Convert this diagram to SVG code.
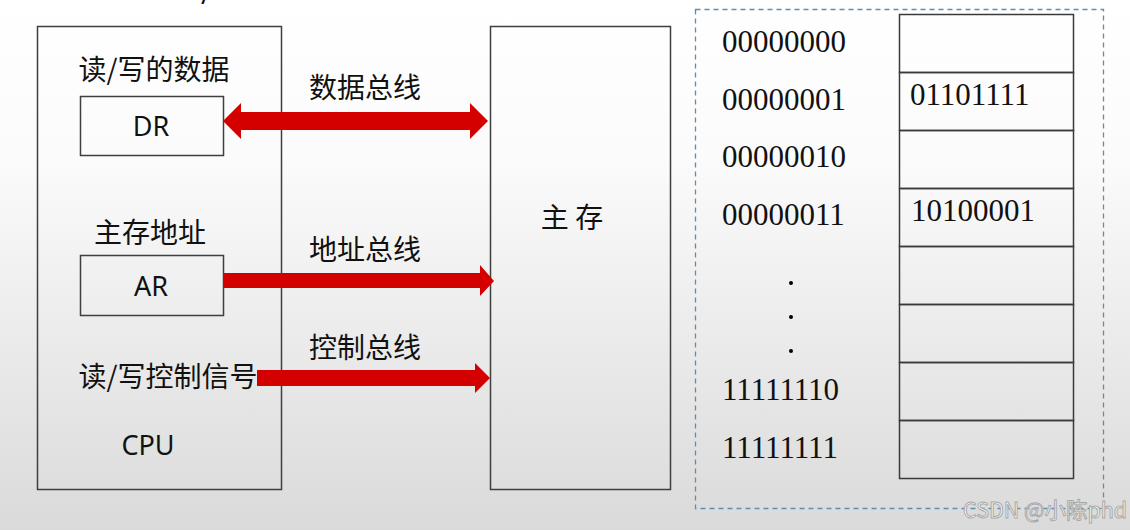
<svg xmlns="http://www.w3.org/2000/svg" width="1130" height="530" viewBox="0 0 1130 530">
<defs>
<linearGradient id="bg" x1="0" y1="0" x2="0" y2="1">
<stop offset="0" stop-color="#ffffff"/>
<stop offset="0.3" stop-color="#fbfbfb"/>
<stop offset="1" stop-color="#dadada"/>
</linearGradient>
<style>
.box{fill:none;stroke:#3f3f3f;stroke-width:1.5}
.cell{fill:none;stroke:#3a3a3a;stroke-width:1.5}
.cn{font-family:"Noto Sans CJK SC","Noto Sans",sans-serif;font-size:28px;fill:#111}
.lat{font-family:"Noto Sans","Open Sans",sans-serif;font-size:27px;fill:#111}
.num{font-family:"Liberation Serif","DejaVu Serif",serif;font-size:31px;fill:#111}
.bus{fill:#d40000}
</style>
</defs>
<rect x="0" y="0" width="1130" height="530" fill="url(#bg)"/>
<text x="201" y="4" class="lat" font-size="20">/</text>

<g id="cpu">
<rect class="box" x="37.5" y="26.5" width="244" height="463"/>
<text x="154" y="80" class="cn" text-anchor="middle">读/写的数据</text>
<text x="150" y="243" class="cn" text-anchor="middle">主存地址</text>
<text x="168" y="387" class="cn" text-anchor="middle">读/写控制信号</text>
<text x="148" y="455" class="lat" text-anchor="middle">CPU</text>
</g>
<g id="dr">
<rect class="box" x="80.5" y="96.5" width="143" height="59"/>
<text x="151" y="136" class="lat" text-anchor="middle">DR</text>
</g>
<g id="ar">
<rect class="box" x="80.5" y="255.5" width="143" height="60"/>
<text x="151" y="296" class="lat" text-anchor="middle">AR</text>
</g>
<g id="memory">
<rect class="box" x="490.5" y="26.5" width="180" height="463" stroke="#555"/>
<text x="572" y="228" class="cn" text-anchor="middle">主 存</text>
</g>

<g id="connectors">
<polygon class="bus" points="223,121 241,103 241,112 470,112 470,103 488,121 470,139 470,130 241,130 241,139"/>
<polygon class="bus" points="223,273 480,273 480,265 494,281 480,296 480,288 223,288"/>
<polygon class="bus" points="257,370 475,370 475,363 490,378 475,393 475,386 257,386"/>
<text x="365" y="98" class="cn" text-anchor="middle">数据总线</text>
<text x="365" y="260" class="cn" text-anchor="middle">地址总线</text>
<text x="365" y="358" class="cn" text-anchor="middle">控制总线</text>
</g>

<g id="memory-table">
<rect x="695.5" y="9.5" width="408" height="499" fill="none" stroke="#5b8db5" stroke-width="1.3" stroke-dasharray="5,4"/>
<rect class="cell" x="899.5" y="14.5" width="174" height="58"/>
<rect class="cell" x="899.5" y="72.5" width="174" height="58"/>
<rect class="cell" x="899.5" y="130.5" width="174" height="58"/>
<rect class="cell" x="899.5" y="188.5" width="174" height="58"/>
<rect class="cell" x="899.5" y="246.5" width="174" height="58"/>
<rect class="cell" x="899.5" y="304.5" width="174" height="58"/>
<rect class="cell" x="899.5" y="362.5" width="174" height="58"/>
<rect class="cell" x="899.5" y="420.5" width="174" height="58"/>
<text x="910" y="105" class="num">01101111</text>
<text x="911" y="221" class="num">10100001</text>
<text x="722" y="52" class="num">00000000</text>
<text x="722" y="110" class="num">00000001</text>
<text x="722" y="167" class="num">00000010</text>
<text x="722" y="225" class="num">00000011</text>
<circle cx="791" cy="283" r="2"/>
<circle cx="791" cy="317" r="2"/>
<circle cx="791" cy="351" r="2"/>
<text x="722" y="400" class="num">11111110</text>
<text x="722" y="458" class="num">11111111</text>
</g>
<text x="963" y="518" font-family="Noto Sans CJK SC,Noto Sans,sans-serif" font-size="21.5" fill="#ffffff" stroke="#a8a8a8" stroke-width="1">CSDN @小陈phd</text>
</svg>
